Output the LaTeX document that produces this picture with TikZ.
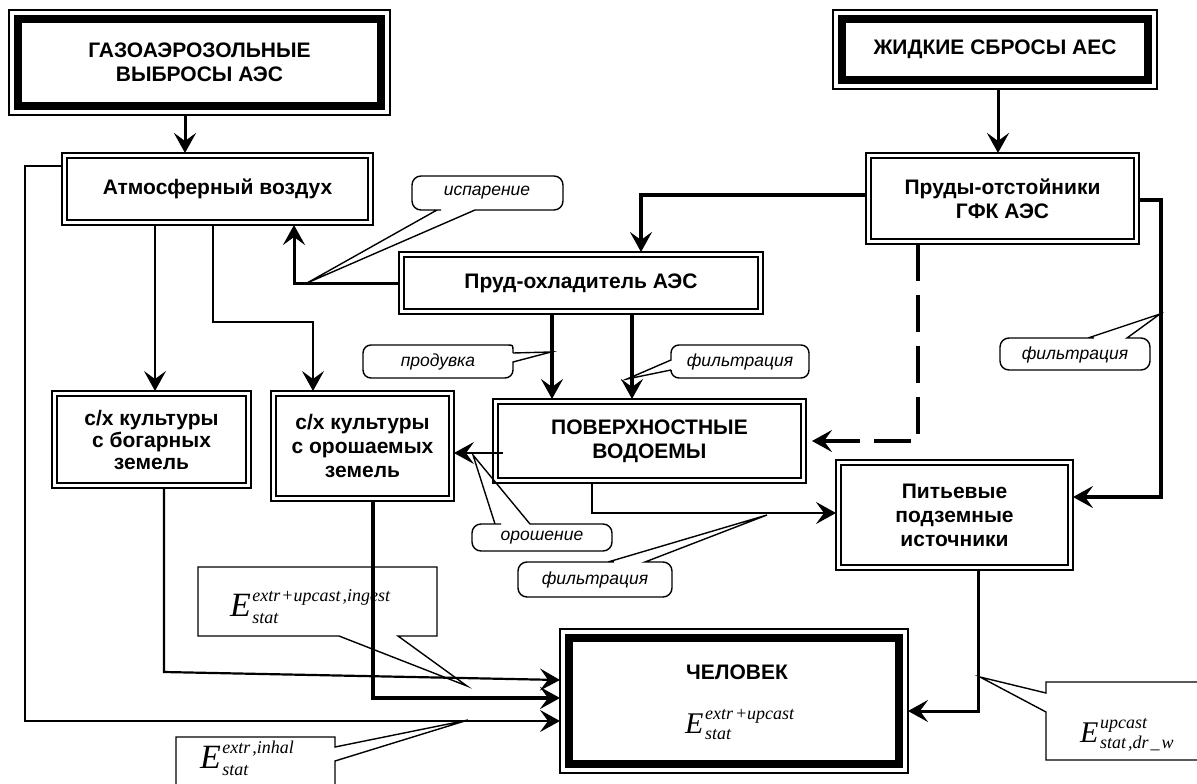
\documentclass[tikz,border=0pt]{standalone}
\usepackage{fontspec}
\setmainfont{Liberation Sans}
\newfontfamily\tnr{Liberation Serif}
\usetikzlibrary{arrows.meta}

% double-framed box: name, x1, y1, x2, y2, text
\newcommand\mydbox[6]{%
  \node[boxtxt, draw, line width=1.3pt, minimum width={(#4)-(#2)}, minimum height={(#5)-(#3)}]
    (#1) at ({((#2)+(#4))/2},{((#3)+(#5))/2}) {#6};
  \draw[line width=2.8pt] ([xshift=5pt,yshift=-5pt]#1.north west) rectangle ([xshift=-5pt,yshift=5pt]#1.south east);}
% heavy-framed box
\newcommand\mytbox[6]{%
  \node[boxtxt, draw, line width=1.8pt, minimum width={(#4)-(#2)}, minimum height={(#5)-(#3)}]
    (#1) at ({((#2)+(#4))/2},{((#3)+(#5))/2}) {#6};
  \draw[line width=8pt] ([xshift=9pt,yshift=-9pt]#1.north west) rectangle ([xshift=-9pt,yshift=9pt]#1.south east);}
% formula E with scripts: size, sup, sub, raise, lower
\newcommand\Ef[5]{{\tnr\itshape\fontsize{#1}{#1}\selectfont E\kern1.5pt\fontsize{18}{18}\selectfont
  \setbox0=\hbox{\raisebox{#4}{#2}}\setbox2=\hbox{\raisebox{-#5}{#3}}%
  \ifdim\wd0>\wd2 \rlap{\box2}\box0 \else \rlap{\box0}\box2 \fi}}

\begin{document}
\begin{tikzpicture}[x=1pt,y=-1pt,
  >={Stealth[length=20pt,width=22pt,inset=8pt]},
  boxtxt/.style={font=\bfseries\fontsize{21}{24}\selectfont, align=center, inner sep=0pt, outer sep=0pt},
  cotxt/.style={font=\itshape\fontsize{17.5}{20}\selectfont, inner sep=0pt},
  ftxt/.style={anchor=base west, inner sep=0pt},
  co/.style={line width=1.4pt, line join=miter},
  thinc/.style={line width=1.5pt},
  medc/.style={line width=2.2pt},
  thickc/.style={line width=3pt},
  heavyc/.style={line width=4pt}]
\useasboundingbox (0,0) rectangle (1197,784);
\fill[white] (0,0) rectangle (1197,784);

% ---- boxes
\mytbox{g1}{9}{10}{390}{115}{ГАЗОАЭРОЗОЛЬНЫЕ\\ВЫБРОСЫ АЭС}
\mytbox{g2}{833}{10}{1157}{89}{ЖИДКИЕ СБРОСЫ АЕС}
\mydbox{atm}{62}{153}{373}{225}{Атмосферный воздух}
\mydbox{otst}{866}{153}{1139}{244}{Пруды-отстойники\\ГФК АЭС}
\mydbox{cool}{399}{252}{763}{314}{Пруд-охладитель АЭС}
\mydbox{bog}{52}{391}{251}{488}{с/х культуры\\[-2pt]с богарных\\[-2pt]земель}
\mydbox{orosh}{271}{391}{454}{501}{с/х культуры\\с орошаемых\\земель}
\mydbox{pov}{493}{399}{806}{483}{ПОВЕРХНОСТНЫЕ\\ВОДОЕМЫ}
\mydbox{pit}{836}{460}{1073}{570}{Питьевые\\подземные\\источники}
\mytbox{man}{560}{629}{908}{773}{}
\node[boxtxt] (manT) at (737,672) {ЧЕЛОВЕК};
\node[ftxt] (fman) at (685,733) {\Ef{30}{extr\kern2pt+upcast}{stat}{14pt}{6pt}};

% ---- connectors
\draw[thickc,->] ([xshift=-14.5pt]g1.south) -- ([xshift=-32.5pt]atm.north);
\draw[thickc,->] ([xshift=3pt]g2.south) -- ([xshift=-4.5pt]otst.north);
\draw[heavyc,->] ([yshift=3.5pt]otst.west) -| ([xshift=60pt]cool.north);
\draw[thickc,->] (cool.west) -| ([xshift=76.5pt]atm.south);
\draw[thinc,->] ([xshift=-62.5pt]atm.south) -- ([xshift=3.5pt]bog.north);
\coordinate (k1) at (313,322);
\draw[thinc,->] ([xshift=-4.5pt]atm.south) |- (k1) -- ([xshift=-49.5pt]orosh.north);
\draw[heavyc,->] ([xshift=-29pt]cool.south) -- ([xshift=-97.5pt]pov.north);
\draw[heavyc,->] ([xshift=51pt]cool.south) -- ([xshift=-17.5pt]pov.north);
\draw[heavyc,->,dash pattern=on 37pt off 14pt] ([xshift=-84.5pt]otst.south) |- ([xshift=6pt]pov.east);
\coordinate (r2) at (1161,497);
\draw[heavyc,->] ([yshift=-1.5pt]otst.east) -| (r2) -- ([yshift=18pt]pit.east);
\draw[thinc,->] ([xshift=10pt,yshift=-12pt]pov.west) -- ([yshift=-7pt]orosh.east);
\draw[medc,->] ([xshift=-57.5pt]pov.south) |- ([yshift=2pt]pit.west);
\coordinate (b1) at (164,672);
\draw[medc,->] ([xshift=12.5pt]bog.south) -- (b1) -- ([yshift=21pt]man.west);
\draw[heavyc,->] ([xshift=10.5pt]orosh.south) |- ([yshift=3pt]man.west);
\coordinate (l2) at (25,721);
\draw[medc,->] ([yshift=23pt]atm.west) -| (l2) -- ([yshift=-20pt]man.west);
\draw[thickc,->] ([xshift=23.5pt]pit.south) |- ([yshift=-10pt]man.east);

% ---- callouts
\draw[co] (437,210) -- (307,283) -- (475,210) -- (480,210) [rounded corners=9pt] -- (563,210) -- (563,176) -- (412,176) -- (412,210) -- (432,210) [sharp corners] -- (437,210);
\node[cotxt] (tisp) at (487,193) {испарение};

\draw[co] (513,353) -- (551,352) -- (513,362) -- (513,363) [rounded corners=8pt] -- (513,378) -- (363,378) -- (363,345) -- (503,345) [rounded corners=0pt] -- (507,345) .. controls (513,345) .. (513,351) -- (513,353);
\node[cotxt] (tprod) at (438,362) {продувка};

\draw[co] (671,370) -- (627,379) -- (671,360) -- (671,358) [rounded corners=8pt] -- (671,345) -- (809,345) -- (809,378) -- (671,378) [rounded corners=0pt] -- (671,372) -- (671,370);
\node[cotxt] (tf1) at (740,362) {фильтрация};

\draw[co] (1088,338) -- (1160,314) -- (1127,338) -- (1130,338) [rounded corners=9pt] -- (1150,338) -- (1150,370) -- (1000,370) -- (1000,338) -- (1085,338) [sharp corners] -- (1088,338);
\node[cotxt] (tf2) at (1075,355) {фильтрация};

\draw[co] (495,524) -- (473,455) -- (530,524) -- (533,524) [rounded corners=9pt] -- (612,524) -- (612,551) -- (472,551) -- (472,524) -- (492,524) [sharp corners] -- (495,524);
\node[cotxt] (tor) at (542,538) {орошение};

\draw[co] (608,562) -- (767,515) -- (645,562) -- (648,562) [rounded corners=9pt] -- (672,562) -- (672,597) -- (518,597) -- (518,562) -- (605,562) [sharp corners] -- (608,562);
\node[cotxt] (tf3) at (595,580) {фильтрация};

\draw[co] (339,636) -- (467,686) -- (398,636) -- (437,636) -- (437,567) -- (198,567) -- (198,636) -- cycle;
\node[ftxt] (fing) at (230,616) {\Ef{34}{extr\kern1pt+upcast\kern2pt,ingest}{stat}{15pt}{7pt}};

\draw[co] (335,747) -- (468,720) -- (335,761) -- (335,800) -- (176,800) -- (176,737) -- (335,737) -- cycle;
\node[ftxt] (finh) at (200,768) {\Ef{34}{extr\kern2pt,inhal}{stat}{15pt}{7pt}};

\draw[co] (1046,693) -- (980,677) -- (1046,712) -- (1046,760) -- (1220,760) -- (1220,682) -- (1046,682) -- cycle;
\node[ftxt] (fdrw) at (1080,742) {\Ef{30}{upcast}{stat\kern2pt,dr\kern2pt\_\kern2pt w}{14pt}{6pt}};
\end{tikzpicture}
\end{document}
